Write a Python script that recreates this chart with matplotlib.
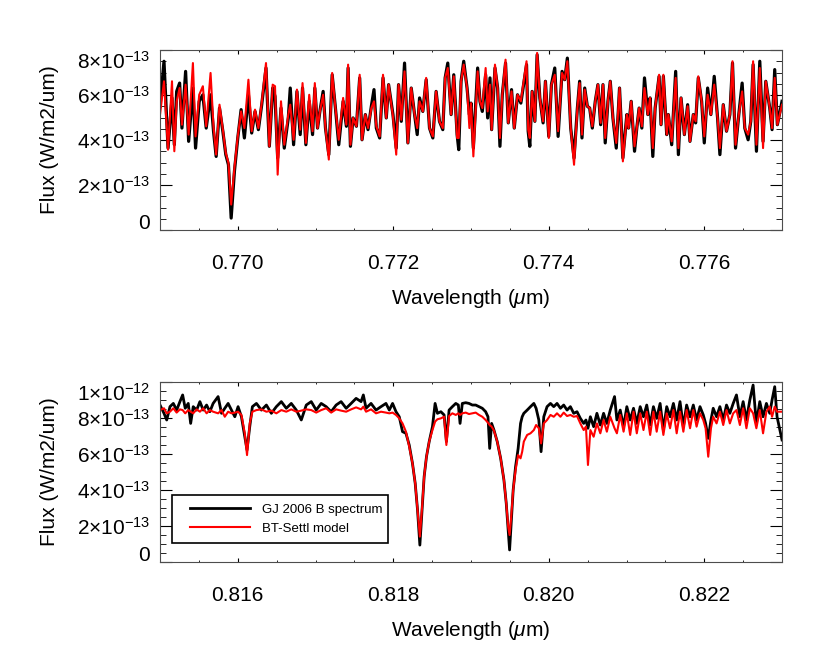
import numpy as np
import matplotlib as mpl
mpl.use('Agg')
import matplotlib.pyplot as plt
from matplotlib.ticker import MultipleLocator
from matplotlib.lines import Line2D
from matplotlib.legend_handler import HandlerLine2D
from matplotlib.transforms import ScaledTranslation

# K I region, flux in units of 1e-13 W/m2/um
wl_top = [
   0.769000, 0.769051, 0.769103, 0.769154, 0.769184, 0.769214, 0.769252, 0.769282, 0.769329, 0.769368,
   0.769423, 0.769457, 0.769504, 0.769551, 0.769594, 0.769650, 0.769688, 0.769722, 0.769765, 0.769808,
   0.769846, 0.769880, 0.769915, 0.769957, 0.770000, 0.770043, 0.770085, 0.770137, 0.770179, 0.770222,
   0.770265, 0.770308, 0.770363, 0.770406, 0.770449, 0.770479, 0.770513, 0.770556, 0.770598, 0.770650,
   0.770675, 0.770718, 0.770761, 0.770803, 0.770833, 0.770876, 0.770919, 0.770962, 0.770991, 0.771026,
   0.771056, 0.771098, 0.771128, 0.771171, 0.771214, 0.771256, 0.771299, 0.771355, 0.771397, 0.771419,
   0.771449, 0.771483, 0.771526, 0.771568, 0.771598, 0.771641, 0.771675, 0.771718, 0.771752, 0.771782,
   0.771825, 0.771868, 0.771910, 0.771940, 0.771996, 0.772038, 0.772068, 0.772103, 0.772145, 0.772188,
   0.772231, 0.772274, 0.772308, 0.772338, 0.772380, 0.772423, 0.772466, 0.772509, 0.772551, 0.772594,
   0.772637, 0.772667, 0.772701, 0.772744, 0.772778, 0.772821, 0.772842, 0.772872, 0.772906, 0.772949,
   0.772979, 0.773000,
   0.773030, 0.773085, 0.773115, 0.773145, 0.773188, 0.773214, 0.773244, 0.773265, 0.773308, 0.773342,
   0.773372, 0.773402, 0.773444, 0.773479, 0.773521, 0.773556, 0.773598, 0.773641, 0.773714, 0.773735,
   0.773756, 0.773786, 0.773821, 0.773850, 0.773885, 0.773927, 0.773957, 0.774000, 0.774034, 0.774077,
   0.774120, 0.774171, 0.774205, 0.774239, 0.774282, 0.774325, 0.774368, 0.774397, 0.774427, 0.774462,
   0.774496, 0.774526, 0.774560, 0.774598, 0.774632, 0.774667, 0.774697, 0.774726, 0.774761, 0.774791,
   0.774825, 0.774868, 0.774910, 0.774953,
   0.775004, 0.775026, 0.775060, 0.775103, 0.775132, 0.775162, 0.775197, 0.775231, 0.775274, 0.775303,
   0.775338, 0.775368, 0.775419, 0.775444, 0.775474, 0.775517, 0.775538, 0.775581, 0.775632, 0.775667,
   0.775701, 0.775744, 0.775786, 0.775816, 0.775859, 0.775889, 0.775923, 0.775966, 0.776000, 0.776043,
   0.776085, 0.776128, 0.776171, 0.776201, 0.776244, 0.776286, 0.776329, 0.776363, 0.776402, 0.776444,
   0.776487, 0.776521, 0.776564, 0.776598, 0.776628, 0.776671, 0.776714, 0.776756, 0.776791, 0.776842,
   0.776872, 0.776906, 0.776940, 0.777000]

obs_top = [
   5.50, 7.50, 3.64, 5.87, 3.79, 6.16, 6.53, 4.53, 7.05, 3.94,
   6.31, 3.64, 5.72, 6.01, 4.53, 6.01, 4.39, 3.27, 5.42, 4.39,
   3.35, 2.90, 0.53, 2.61, 4.09, 5.35, 4.09, 6.01, 4.31, 5.27,
   4.46, 5.57, 7.20, 3.72, 6.31, 5.94, 3.20, 5.42, 3.64, 4.98,
   6.31, 3.79, 6.16, 4.24, 6.31, 3.79, 5.72, 4.24, 6.31, 4.53,
   5.27, 6.16, 4.53, 3.35, 6.90, 5.42, 3.79, 5.72, 4.61, 7.20,
   3.72, 4.98, 4.61, 6.76, 4.01, 5.13, 4.46, 5.50, 6.24, 4.53,
   4.09, 6.76, 4.98, 6.46, 5.13, 3.64, 6.46, 4.83, 7.42, 3.87,
   6.31, 5.13, 4.24, 5.87, 5.27, 6.68, 4.53, 4.09, 6.16, 4.83,
   4.46, 6.76, 7.42, 5.13, 6.90, 4.24, 3.57, 6.61, 7.50, 6.31,
   5.13, 5.64,
   3.64, 7.20, 5.72, 5.27, 6.90, 4.98, 6.76, 4.46, 7.20, 6.31,
   3.72, 6.01, 7.42, 4.76, 6.24, 4.53, 6.01, 5.64, 7.35, 4.39,
   3.72, 6.16, 4.83, 7.79, 5.87, 4.76, 6.61, 4.16, 6.46, 7.20,
   4.16, 7.05, 6.68, 7.64, 4.53, 3.20, 5.42, 6.61, 4.09, 6.31,
   5.50, 5.42, 4.53, 5.72, 6.46, 4.68, 6.46, 3.87, 5.72, 6.61,
   4.98, 3.64, 6.31, 3.20,
   5.13, 4.53, 5.72, 3.50, 4.53, 5.42, 4.53, 6.76, 5.13, 5.87,
   3.27, 5.42, 6.83, 4.68, 6.83, 4.24, 5.13, 3.79, 7.05, 3.35,
   5.87, 4.24, 5.57, 3.94, 5.13, 4.76, 6.76, 5.72, 3.87, 6.31,
   5.13, 6.83, 4.98, 3.35, 5.57, 4.39, 5.13, 7.42, 3.64, 5.13,
   6.53, 4.53, 4.01, 4.83, 7.35, 3.50, 7.50, 3.94, 6.61, 5.42,
   4.46, 7.13, 4.68, 5.72]

mod_top = [
   5.13, 6.61, 3.57, 6.61, 3.50, 5.72, 6.31, 4.68, 6.46, 4.24,
   7.42, 4.16, 6.01, 6.39, 4.61, 6.98, 4.61, 3.35, 5.57, 4.46,
   3.42, 2.98, 1.13, 2.76, 4.16, 5.27, 4.53, 6.68, 4.39, 5.35,
   4.53, 5.64, 7.42, 3.72, 6.46, 6.39, 2.46, 5.72, 3.79, 5.13,
   5.57, 4.01, 6.24, 4.46, 6.53, 3.87, 6.01, 4.39, 6.53, 4.53,
   5.27, 6.01, 4.53, 3.13, 6.98, 5.42, 4.01, 5.87, 4.68, 7.35,
   3.79, 4.98, 4.61, 6.90, 4.01, 5.13, 4.53, 5.42, 5.72, 4.61,
   4.16, 6.90, 4.98, 6.46, 5.05, 3.35, 6.46, 4.90, 7.05, 3.87,
   6.31, 5.13, 4.53, 5.72, 5.27, 6.76, 4.53, 4.16, 6.16, 4.83,
   4.53, 6.76, 7.20, 5.13, 6.83, 4.09, 4.09, 6.61, 7.35, 6.31,
   4.53, 5.64,
   3.27, 7.05, 5.72, 5.42, 7.20, 5.27, 6.46, 4.46, 7.35, 6.31,
   4.09, 6.01, 7.57, 4.76, 6.16, 4.53, 6.01, 5.72, 7.50, 4.46,
   4.09, 6.16, 4.83, 7.87, 5.87, 4.83, 6.61, 4.09, 6.46, 6.90,
   4.39, 6.98, 6.68, 7.50, 4.53, 2.90, 5.42, 6.53, 4.24, 6.24,
   5.50, 5.42, 4.61, 5.72, 6.46, 4.76, 6.46, 4.09, 5.72, 6.61,
   4.98, 3.87, 6.31, 3.05,
   5.13, 4.53, 5.72, 3.72, 4.53, 5.42, 4.61, 6.31, 5.13, 5.87,
   3.64, 5.42, 6.90, 4.68, 6.90, 4.24, 5.13, 3.94, 6.76, 3.64,
   5.87, 4.24, 5.50, 3.94, 5.13, 4.83, 6.83, 5.72, 4.16, 6.01,
   5.13, 6.46, 4.98, 3.64, 5.57, 4.39, 5.13, 7.50, 3.79, 5.13,
   6.16, 4.53, 4.24, 4.83, 7.50, 3.79, 7.20, 3.64, 6.61, 5.42,
   4.53, 6.76, 4.68, 5.57]

# Na I doublet region
wl_bot = [
   0.815000, 0.815051, 0.815086, 0.815128, 0.815171, 0.815214, 0.815256, 0.815291, 0.815324, 0.815363,
   0.815394, 0.815427, 0.815471, 0.815513, 0.815555, 0.815599, 0.815641, 0.815683, 0.815747, 0.815791,
   0.815833, 0.815876, 0.815919, 0.815962, 0.816004, 0.816047, 0.816090, 0.816119, 0.816154, 0.816188,
   0.816240, 0.816304, 0.816368, 0.816432, 0.816496, 0.816560, 0.816624, 0.816688, 0.816753, 0.816817,
   0.816881, 0.816945, 0.817009, 0.817073, 0.817137, 0.817201, 0.817265, 0.817329, 0.817394, 0.817458,
   0.817522, 0.817586, 0.817615, 0.817650, 0.817714, 0.817778, 0.817842, 0.817906, 0.817949, 0.817991,
   0.818035,
   0.818077, 0.818119, 0.818163, 0.818205, 0.818247, 0.818282, 0.818312, 0.818342, 0.818368, 0.818397,
   0.818427, 0.818462, 0.818504, 0.818538, 0.818568, 0.818612, 0.818654, 0.818683, 0.818718, 0.818760,
   0.818804, 0.818837, 0.818859, 0.818888, 0.818932, 0.818974, 0.819017, 0.819060, 0.819103, 0.819145,
   0.819188, 0.819218, 0.819240, 0.819265, 0.819295, 0.819337, 0.819381, 0.819423, 0.819453, 0.819478,
   0.819496, 0.819517, 0.819542, 0.819573, 0.819606, 0.819637, 0.819658, 0.819679, 0.819722, 0.819765,
   0.819808, 0.819837, 0.819872, 0.819901, 0.819936, 0.819978, 0.820022, 0.820064, 0.820106, 0.820150,
   0.820192, 0.820235, 0.820278, 0.820321, 0.820363, 0.820406, 0.820449, 0.820478, 0.820504, 0.820535,
   0.820577, 0.820619, 0.820663, 0.820705, 0.820747, 0.820791, 0.820846, 0.820876, 0.820919, 0.820962,
   0.821004, 0.821047, 0.821090, 0.821132, 0.821176, 0.821218, 0.821260, 0.821304, 0.821346, 0.821388,
   0.821432, 0.821474, 0.821517, 0.821560, 0.821603, 0.821645, 0.821688, 0.821731, 0.821773, 0.821817,
   0.821859, 0.821901, 0.821945, 0.821987, 0.822017, 0.822051, 0.822086, 0.822115, 0.822158, 0.822201,
   0.822244, 0.822286, 0.822329, 0.822372, 0.822414, 0.822458, 0.822500, 0.822542, 0.822586, 0.822628,
   0.822670, 0.822714, 0.822756, 0.822799, 0.822842, 0.822872, 0.822906, 0.822936, 0.823000]

obs_bot = [
   8.72, 8.26, 7.89, 8.63, 8.81, 8.44, 8.91, 9.28, 8.54, 8.81,
   7.70, 8.63, 8.44, 8.91, 8.44, 8.72, 8.35, 8.81, 9.19, 8.26,
   8.54, 8.81, 8.44, 8.07, 8.63, 8.07, 6.96, 6.22, 7.52, 8.63,
   8.81, 8.44, 8.72, 8.26, 8.63, 8.91, 8.54, 8.81, 8.44, 7.89,
   8.72, 8.91, 8.44, 8.81, 8.63, 8.35, 8.72, 8.91, 8.54, 8.81,
   9.09, 8.91, 9.28, 8.54, 8.81, 8.44, 8.63, 8.81, 8.44, 8.81,
   8.35,
   8.07, 7.24, 7.15, 6.50, 5.48, 4.37, 2.89, 0.94, 2.70, 4.74,
   5.85, 6.69, 7.52, 8.81, 8.26, 8.35, 8.17, 6.69, 8.44, 8.63,
   8.81, 8.72, 7.70, 8.81, 8.85, 8.81, 8.72, 8.72, 8.63, 8.54,
   8.35, 8.07, 6.31, 7.70, 7.33, 6.69, 5.76, 4.56, 3.26, 1.78,
   0.67, 2.15, 4.00, 5.30, 6.31, 7.70, 8.07, 8.26, 8.44, 8.63,
   8.81, 8.54, 7.89, 6.13, 8.07, 8.63, 8.81, 8.63, 8.81, 8.54,
   8.72, 8.44, 8.63, 8.26, 8.35, 7.98, 7.70, 7.89, 7.43, 8.07,
   7.52, 8.26, 7.61, 8.26, 7.70, 8.44, 9.19, 7.89, 8.44, 7.52,
   8.63, 7.89, 8.54, 7.70, 8.63, 8.07, 8.72, 7.61, 8.63, 7.98,
   8.81, 7.33, 8.63, 8.07, 8.81, 7.89, 8.91, 7.52, 8.72, 8.07,
   8.72, 7.89, 8.63, 8.17, 7.70, 6.87, 7.89, 8.54, 8.07, 8.63,
   7.89, 8.72, 8.26, 8.81, 9.28, 8.07, 8.91, 7.89, 9.00, 9.83,
   7.70, 8.91, 8.07, 8.81, 8.26, 9.00, 9.74, 8.07, 6.78]

mod_bot = [
   8.44, 8.54, 8.26, 8.35, 8.54, 8.30, 8.48, 8.44, 8.26, 8.44,
   8.35, 8.26, 8.48, 8.35, 8.54, 8.26, 8.44, 8.35, 8.26, 8.44,
   8.07, 8.35, 8.26, 8.30, 8.35, 8.17, 7.15, 5.94, 7.70, 8.35,
   8.44, 8.48, 8.35, 8.41, 8.26, 8.44, 8.35, 8.48, 8.35, 8.41,
   8.48, 8.44, 8.30, 8.44, 8.54, 8.30, 8.48, 8.41, 8.35, 8.48,
   8.59, 8.48, 8.63, 8.35, 8.48, 8.26, 8.35, 8.30, 8.26, 8.30,
   8.17,
   7.98, 7.70, 7.24, 6.41, 5.48, 4.37, 2.89, 1.41, 2.89, 4.74,
   5.85, 6.69, 7.33, 7.80, 7.93, 7.98, 8.07, 6.50, 8.11, 8.26,
   8.17, 8.26, 8.17, 8.26, 8.30, 8.22, 8.26, 8.30, 8.17, 8.07,
   7.89, 7.74, 7.61, 7.52, 7.30, 6.69, 5.76, 4.56, 3.26, 1.96,
   1.50, 2.52, 4.00, 5.11, 5.94, 5.76, 6.13, 6.69, 7.06, 7.15,
   7.33, 7.61, 7.43, 6.59, 7.70, 7.89, 8.17, 8.07, 8.26, 8.07,
   8.30, 8.11, 8.17, 8.07, 8.11, 7.70, 7.33, 7.52, 5.39, 7.33,
   6.96, 7.70, 7.15, 7.89, 7.24, 8.07, 7.43, 7.15, 8.17, 7.24,
   8.26, 7.06, 8.35, 7.15, 8.26, 7.33, 8.35, 7.06, 8.35, 7.24,
   8.35, 7.06, 8.26, 7.43, 8.44, 7.15, 8.35, 7.24, 8.44, 7.43,
   8.44, 7.52, 8.26, 7.89, 7.43, 5.85, 7.43, 8.07, 7.70, 8.35,
   7.61, 8.44, 7.70, 8.26, 8.44, 7.61, 8.54, 7.43, 8.54, 8.26,
   7.43, 8.44, 7.15, 8.35, 8.63, 8.07, 8.63, 8.35, 8.35]

top_xticks = [0.770, 0.772, 0.774, 0.776]
bot_xticks = [0.816, 0.818, 0.820, 0.822]
top_yticks = [0, 2, 4, 6, 8]
bot_yticks = [0, 2, 4, 6, 8, 10]
top_ylabels = ['0', '2×10$^{-13}$', '4×10$^{-13}$', '6×10$^{-13}$', '8×10$^{-13}$']
bot_ylabels = ['0', '2×10$^{-13}$', '4×10$^{-13}$', '6×10$^{-13}$', '8×10$^{-13}$', '1×10$^{-12}$']

mpl.rcParams['font.family'] = ['Liberation Sans', 'DejaVu Sans']
mpl.rcParams['mathtext.fontset'] = 'custom'
mpl.rcParams['mathtext.rm'] = 'Liberation Sans'
mpl.rcParams['mathtext.it'] = 'Liberation Sans:italic'

scale = 1e-13

def setup(ax, xticks, yticks, ylabels, ymax):
   ax.set_xlim(xticks[0]-0.001, xticks[-1]+0.001)
   ax.set_ylim(0, ymax*scale)
   ax.set_xticks(xticks)
   ax.set_xticklabels(['%.3f' % x for x in xticks])
   ax.xaxis.set_minor_locator(MultipleLocator(0.0005))
   ax.set_yticks([y*scale for y in yticks])
   ax.set_yticklabels(ylabels)
   ax.yaxis.set_minor_locator(MultipleLocator(0.5*scale))
   ax.tick_params(which='both', direction='in', top=True, right=True, labelsize=15)
   ax.tick_params(axis='y', which='major', length=8.9, pad=7)
   ax.tick_params(axis='y', which='minor', length=4.5)
   ax.tick_params(axis='x', which='major', length=2.6, pad=17)
   ax.tick_params(axis='x', which='minor', length=1.3)
   for s in ax.spines.values():
      s.set_linewidth(0.8)
      s.set_color('0.3')
   ax.set_xlabel('Wavelength ($\\mu$m)', fontsize=15, labelpad=10)
   ax.set_ylabel('Flux (W/m2/um)', fontsize=15, labelpad=13)
   # end labels sit inside the axis range, as in the original
   labs = ax.get_yticklabels()
   labs[0].set_transform(labs[0].get_transform() + ScaledTranslation(0, 6/72, fig.dpi_scale_trans))
   labs[-1].set_transform(labs[-1].get_transform() + ScaledTranslation(0, -7/72, fig.dpi_scale_trans))

fig = plt.figure(figsize=(8.3, 6.64), dpi=100)
ax1 = fig.add_axes([0.1928, 0.6536, 0.7494, 0.2711])
ax2 = fig.add_axes([0.1928, 0.1536, 0.7494, 0.2711])

ax1.plot(wl_top, np.array(obs_top)*scale, color='black', lw=2.3)
ax1.plot(wl_top, np.array(mod_top)*scale, color='red', lw=1.5)
setup(ax1, top_xticks, top_yticks, top_ylabels, 8)

ax2.plot(wl_bot, np.array(obs_bot)*scale, color='black', lw=2.0, label='GJ 2006 B spectrum')
ax2.plot(wl_bot, np.array(mod_bot)*scale, color='red', lw=1.5, label='BT-Settl model')
setup(ax2, bot_xticks, bot_yticks, bot_ylabels, 10)

# legend box with the line samples set in from the left edge
leg = ax2.legend(loc='lower left', bbox_to_anchor=(0.019, 0.106, 0.348, 0.272), mode='expand',
                 fontsize=9.5, fancybox=False, edgecolor='black', framealpha=1,
                 handlelength=5.3, handletextpad=0.9, borderaxespad=0, borderpad=0.6,
                 labelspacing=0.55, handler_map={Line2D: HandlerLine2D(xpad=0.8)})
leg.get_frame().set_linewidth(1.2)

fig.savefig('out.png', dpi=100)
